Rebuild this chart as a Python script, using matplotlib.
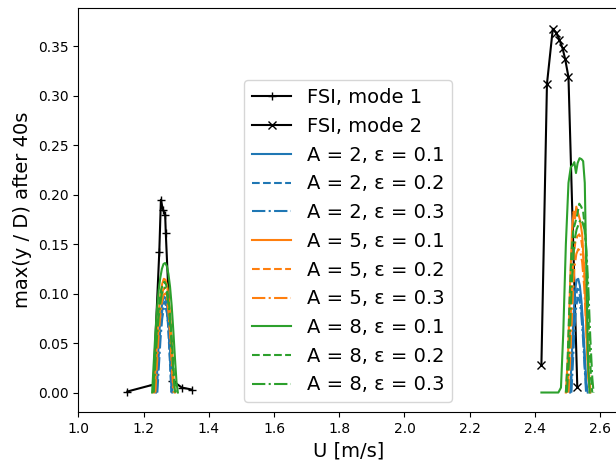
import matplotlib
matplotlib.use("Agg")
import matplotlib.pyplot as plt

# FSI reference results
u_mode1 = [1.15, 1.23, 1.248, 1.253, 1.259, 1.266, 1.268, 1.288, 1.317, 1.348]
y_mode1 = [0.001, 0.008, 0.142, 0.195, 0.185, 0.180, 0.161, 0.012, 0.005, 0.003]
u_mode2 = [2.42, 2.437, 2.455, 2.465, 2.475, 2.485, 2.493, 2.503, 2.53]
y_mode2 = [0.028, 0.312, 0.368, 0.364, 0.357, 0.348, 0.337, 0.319, 0.006]

# wake oscillator model, first lock-in range
u_a2_e1_lo = [1.238, 1.243, 1.248, 1.253, 1.258, 1.263, 1.268, 1.273, 1.278, 1.283, 1.288]
y_a2_e1_lo = [0.000, 0.030, 0.060, 0.080, 0.092, 0.097, 0.095, 0.085, 0.063, 0.030, 0.000]
u_a2_e2_lo = [1.240, 1.245, 1.250, 1.255, 1.260, 1.265, 1.270, 1.275, 1.280, 1.285]
y_a2_e2_lo = [0.000, 0.030, 0.058, 0.078, 0.089, 0.092, 0.086, 0.068, 0.035, 0.000]
u_a2_e3_lo = [1.242, 1.247, 1.252, 1.257, 1.262, 1.267, 1.272, 1.277, 1.282, 1.286]
y_a2_e3_lo = [0.000, 0.028, 0.055, 0.075, 0.085, 0.087, 0.080, 0.060, 0.028, 0.000]

u_a5_e1_lo = [1.232, 1.237, 1.242, 1.247, 1.252, 1.257, 1.262, 1.267, 1.272, 1.277, 1.282, 1.287, 1.292, 1.296]
y_a5_e1_lo = [0.000, 0.030, 0.060, 0.083, 0.100, 0.110, 0.115, 0.114, 0.108, 0.095, 0.075, 0.045, 0.012, 0.000]
u_a5_e2_lo = [1.234, 1.239, 1.244, 1.249, 1.254, 1.259, 1.264, 1.269, 1.274, 1.279, 1.284, 1.289, 1.293]
y_a5_e2_lo = [0.000, 0.030, 0.058, 0.080, 0.095, 0.103, 0.106, 0.103, 0.093, 0.076, 0.050, 0.018, 0.000]
u_a5_e3_lo = [1.236, 1.241, 1.246, 1.251, 1.256, 1.261, 1.266, 1.271, 1.276, 1.281, 1.286, 1.291]
y_a5_e3_lo = [0.000, 0.030, 0.057, 0.078, 0.092, 0.099, 0.100, 0.095, 0.082, 0.060, 0.030, 0.000]

u_a8_e1_lo = [1.226, 1.231, 1.236, 1.241, 1.246, 1.251, 1.256, 1.261, 1.266, 1.271, 1.276, 1.281, 1.286, 1.291, 1.296, 1.301, 1.305]
y_a8_e1_lo = [0.000, 0.030, 0.060, 0.085, 0.103, 0.116, 0.125, 0.130, 0.131, 0.128, 0.120, 0.107, 0.088, 0.063, 0.035, 0.010, 0.000]
u_a8_e2_lo = [1.229, 1.234, 1.239, 1.244, 1.249, 1.254, 1.259, 1.264, 1.269, 1.274, 1.279, 1.284, 1.289, 1.294, 1.299]
y_a8_e2_lo = [0.000, 0.030, 0.057, 0.078, 0.093, 0.104, 0.110, 0.112, 0.109, 0.100, 0.086, 0.065, 0.040, 0.012, 0.000]
u_a8_e3_lo = [1.231, 1.236, 1.241, 1.246, 1.251, 1.256, 1.261, 1.266, 1.271, 1.276, 1.281, 1.286, 1.291, 1.296]
y_a8_e3_lo = [0.000, 0.030, 0.056, 0.076, 0.090, 0.100, 0.105, 0.106, 0.101, 0.090, 0.072, 0.048, 0.020, 0.000]

# second lock-in range
u_a2_e1_hi = [2.508, 2.513, 2.518, 2.523, 2.528, 2.533, 2.538, 2.543, 2.548, 2.553, 2.558, 2.562]
y_a2_e1_hi = [0.000, 0.035, 0.075, 0.102, 0.114, 0.115, 0.108, 0.092, 0.068, 0.038, 0.010, 0.000]
u_a2_e2_hi = [2.510, 2.515, 2.520, 2.525, 2.530, 2.535, 2.540, 2.545, 2.550, 2.555, 2.559]
y_a2_e2_hi = [0.000, 0.035, 0.072, 0.095, 0.105, 0.104, 0.094, 0.075, 0.048, 0.015, 0.000]
u_a2_e3_hi = [2.512, 2.517, 2.522, 2.527, 2.532, 2.537, 2.542, 2.547, 2.552, 2.557]
y_a2_e3_hi = [0.000, 0.033, 0.068, 0.088, 0.096, 0.093, 0.080, 0.058, 0.028, 0.000]

u_a5_e1_hi = [2.495, 2.502, 2.508, 2.514, 2.519, 2.523, 2.527, 2.532, 2.538, 2.545, 2.552, 2.558, 2.564, 2.570]
y_a5_e1_hi = [0.000, 0.040, 0.110, 0.165, 0.183, 0.176, 0.188, 0.182, 0.175, 0.160, 0.120, 0.060, 0.015, 0.000]
u_a5_e2_hi = [2.500, 2.506, 2.512, 2.518, 2.524, 2.530, 2.536, 2.542, 2.548, 2.554, 2.560, 2.566, 2.571]
y_a5_e2_hi = [0.000, 0.040, 0.095, 0.135, 0.152, 0.158, 0.160, 0.155, 0.140, 0.110, 0.065, 0.020, 0.000]
u_a5_e3_hi = [2.503, 2.509, 2.515, 2.521, 2.527, 2.533, 2.539, 2.545, 2.551, 2.557, 2.563, 2.568]
y_a5_e3_hi = [0.000, 0.040, 0.090, 0.125, 0.140, 0.145, 0.143, 0.132, 0.108, 0.070, 0.025, 0.000]

u_a8_e1_hi = [2.420, 2.472, 2.480, 2.487, 2.495, 2.503, 2.510, 2.516, 2.521, 2.526, 2.531, 2.537, 2.543, 2.548, 2.553, 2.558, 2.563, 2.568]
y_a8_e1_hi = [0.000, 0.000, 0.005, 0.060, 0.150, 0.212, 0.228, 0.230, 0.233, 0.222, 0.232, 0.237, 0.236, 0.234, 0.212, 0.120, 0.030, 0.000]
u_a8_e2_hi = [2.495, 2.500, 2.506, 2.512, 2.518, 2.524, 2.530, 2.536, 2.542, 2.548, 2.554, 2.560, 2.566, 2.572, 2.576]
y_a8_e2_hi = [0.000, 0.030, 0.090, 0.140, 0.165, 0.172, 0.180, 0.191, 0.188, 0.183, 0.165, 0.120, 0.060, 0.015, 0.000]
u_a8_e3_hi = [2.498, 2.504, 2.510, 2.516, 2.522, 2.528, 2.534, 2.540, 2.546, 2.552, 2.558, 2.564, 2.570, 2.576, 2.580]
y_a8_e3_hi = [0.000, 0.030, 0.085, 0.130, 0.155, 0.165, 0.170, 0.175, 0.172, 0.165, 0.145, 0.105, 0.055, 0.015, 0.000]

A_values = [2, 5, 8]
eps_values = [0.1, 0.2, 0.3]
model_runs = [
    [(u_a2_e1_lo, y_a2_e1_lo, u_a2_e1_hi, y_a2_e1_hi),
     (u_a2_e2_lo, y_a2_e2_lo, u_a2_e2_hi, y_a2_e2_hi),
     (u_a2_e3_lo, y_a2_e3_lo, u_a2_e3_hi, y_a2_e3_hi)],
    [(u_a5_e1_lo, y_a5_e1_lo, u_a5_e1_hi, y_a5_e1_hi),
     (u_a5_e2_lo, y_a5_e2_lo, u_a5_e2_hi, y_a5_e2_hi),
     (u_a5_e3_lo, y_a5_e3_lo, u_a5_e3_hi, y_a5_e3_hi)],
    [(u_a8_e1_lo, y_a8_e1_lo, u_a8_e1_hi, y_a8_e1_hi),
     (u_a8_e2_lo, y_a8_e2_lo, u_a8_e2_hi, y_a8_e2_hi),
     (u_a8_e3_lo, y_a8_e3_lo, u_a8_e3_hi, y_a8_e3_hi)],
]
colors = ['tab:blue', 'tab:orange', 'tab:green']
styles = ['-', '--', '-.']

fig = plt.figure(figsize=(6.16, 4.65), dpi=100)
ax = fig.add_axes([0.1273, 0.114, 0.876, 0.869])

ax.plot(u_mode1, y_mode1, 'k-', marker='+', label='FSI, mode 1')
ax.plot(u_mode2, y_mode2, 'k-', marker='x', label='FSI, mode 2')

for i, A in enumerate(A_values):
    for j, eps in enumerate(eps_values):
        ul, yl, uh, yh = model_runs[i][j]
        ax.plot(ul, yl, color=colors[i], ls=styles[j], label='A = %d, ε = %.1f' % (A, eps))
        ax.plot(uh, yh, color=colors[i], ls=styles[j])

ax.set_xlim(1.0, 2.655)
ax.set_ylim(-0.0197, 0.389)
ax.set_xlabel('U [m/s]', fontsize=14)
ax.set_ylabel('max(y / D) after 40s', fontsize=14)
ax.legend(loc='lower center', fontsize=14)

fig.savefig('out.png', dpi=100)
